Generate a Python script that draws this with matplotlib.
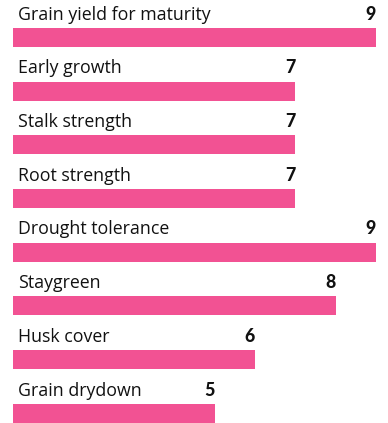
import matplotlib
matplotlib.use("Agg")
import matplotlib.pyplot as plt

traits = ["Grain yield for maturity", "Early growth", "Stalk strength", "Root strength",
          "Drought tolerance", "Staygreen", "Husk cover", "Grain drydown"]
scores = [9, 7, 7, 7, 9, 8, 6, 5]

bar_color = "#F25293"
W, H = 388, 423
fig = plt.figure(figsize=(W / 100, H / 100), dpi=100)
ax = fig.add_axes([0, 0, 1, 1])

px_per_unit = (376 - 13) / 9.0
row_px = 53.7
ax.set_xlim(-13 / px_per_unit, (W - 13) / px_per_unit)
ax.set_ylim((H - 37.5) / row_px, -37.5 / row_px)

ypos = list(range(len(traits)))
ax.barh(ypos, scores, height=19 / row_px, color=bar_color, left=0)

label_offset = 17.8 / row_px
for y, name, val in zip(ypos, traits, scores):
    ax.text(5 / px_per_unit, y - label_offset, name, ha="left", va="baseline",
            fontsize=12.8, family="Open Sans", color="#111111")
    ax.text(val, y - label_offset, str(val), ha="right", va="baseline",
            fontsize=12.8, family="Lato", fontweight="black", color="#111111")

ax.axis("off")
fig.savefig("out.png", dpi=100)
